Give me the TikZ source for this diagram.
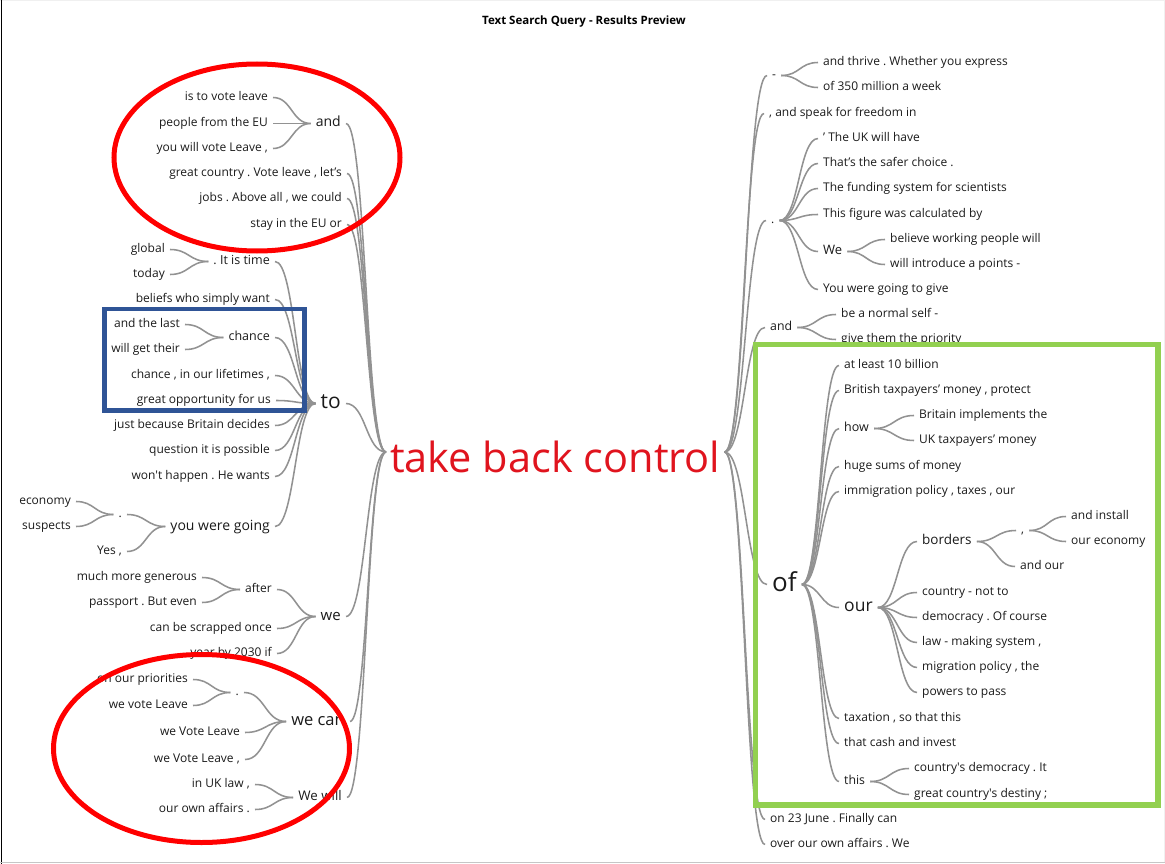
\documentclass[tikz,border=0pt]{standalone}
\usepackage{fontspec}
\setmainfont{Open Sans}
\frenchspacing
\usetikzlibrary{calc}
\definecolor{txt}{HTML}{1A1A1A}
\definecolor{conn}{HTML}{929292}
\definecolor{rootred}{HTML}{E0141E}
\definecolor{annred}{HTML}{FF0000}
\definecolor{annblue}{HTML}{2F5496}
\definecolor{anngreen}{HTML}{92D050}
\tikzset{
  base/.style={inner ysep=0pt, inner xsep=5pt, text=txt, font=\fontsize{12pt}{14pt}\selectfont, text height=9pt, text depth=3pt},
  sz/.style={font=\fontsize{#1pt}{#1pt}\selectfont, text height={#1*0.75pt}, text depth={#1*0.25pt}},
  L/.style={base, anchor=east},
  R/.style={base, anchor=west},
  rootnode/.style={anchor=west, inner xsep=4pt, inner ysep=0pt, text=rootred, font=\fontsize{41.5pt}{41.5pt}\selectfont, text height=40pt, text depth=0pt},
  cn/.style={draw=conn, line width=1.55pt, to path={let \p1=(\tikztostart), \p2=(\tikztotarget) in .. controls ({(\x1+\x2)/2},\y1) and ({(\x1+\x2)/2},\y2) .. (\tikztotarget)}},
  annot/.style={line width=#1}
}
\begin{document}
\begin{tikzpicture}[x=1pt,y=-1pt]
\useasboundingbox (0,0) rectangle (1165,864);
% frame
\draw[gray!12, line width=1pt] (0,1) -- (1164,1) -- (1164,862);
\draw[black, line width=1.5pt] (1.5,0) -- (1.5,864);
\draw[gray!45, line width=1.5pt] (0,862.5) -- (1165,862.5);
% title
\node[font=\bfseries\fontsize{11.5pt}{13pt}\selectfont, text=black, inner sep=0pt] (title) at (584,21.5) {Text Search Query - Results Preview};
% root
\node[rootnode] (root) at (386,452) {take back control};
\begin{scope}[yshift=-2.5pt]
% left side
\node[L] (lA1) at (273,95) {is to vote leave};
\node[L] (lA2) at (273,121) {people from the EU};
\node[L] (lA3) at (273,146) {you will vote Leave ,};
\node[L,sz=14] (lAnd) at (346,121) {and};
\node[L] (lB1) at (347,171) {great country . Vote leave , let’s};
\node[L] (lB2) at (347,196) {jobs . Above all , we could};
\node[L] (lB3) at (347,222) {stay in the EU or};
\node[L] (lGlobal) at (170,247) {global};
\node[L] (lToday) at (170,272) {today};
\node[L,sz=12.5] (lTime) at (275,259) {. It is time};
\node[L] (lBeliefs) at (275,297) {beliefs who simply want};
\node[L] (lLast) at (185,322) {and the last};
\node[L] (lTheir) at (185,347) {will get their};
\node[L,sz=12.5] (lChance) at (275,335) {chance};
\node[L] (lLifetimes) at (275,373) {chance , in our lifetimes ,};
\node[L] (lOpp) at (276,398) {great opportunity for us};
\node[L] (lJust) at (275,423) {just because Britain decides};
\node[L] (lQuestion) at (275,448) {question it is possible};
\node[L] (lWont) at (275,474) {won\textquotesingle t happen . He wants};
\node[L,sz=14] (lGoing) at (275,524) {you were going};
\node[L] (lDot1) at (127,512) {.};
\node[L] (lEconomy) at (76,499) {economy};
\node[L] (lSuspects) at (76,524) {suspects};
\node[L] (lYes) at (127,549) {Yes ,};
\node[L,sz=21] (lTo) at (346,401) {to};
\node[L] (lGenerous) at (202,575) {much more generous};
\node[L] (lPassport) at (202,600) {passport . But even};
\node[L,sz=12] (lAfter) at (277,587) {after};
\node[L] (lScrapped) at (277,626) {can be scrapped once};
\node[L] (lYear) at (277,651) {year by 2030 if};
\node[L,sz=15] (lWe) at (346,614) {we};
\node[L] (lPriorities) at (193,677) {on our priorities};
\node[L] (lVote1) at (193,703) {we vote Leave};
\node[L] (lDot2) at (244,690) {.};
\node[L] (lVote2) at (245,730) {we Vote Leave};
\node[L] (lVote3) at (245,757) {we Vote Leave ,};
\node[L,sz=16.5] (lWeCan) at (350,719) {we can};
\node[L] (lUKlaw) at (255,782) {in UK law ,};
\node[L] (lAffairs) at (255,807) {our own affairs .};
\node[L,sz=13.3] (lWeWill) at (347,795) {We will};
% right side
\node[R] (rDash) at (767,73) {-};
\node[R] (rThrive) at (818,60) {and thrive . Whether you express};
\node[R] (r350) at (818,85) {of 350 million a week};
\node[R] (rSpeak) at (764,111) {, and speak for freedom in};
\node[R] (rDot) at (766,218) {.};
\node[R] (rUK) at (818,136) {’ The UK will have};
\node[R] (rSafer) at (818,161) {That’s the safer choice .};
\node[R] (rFunding) at (818,186) {The funding system for scientists};
\node[R] (rFigure) at (818,212) {This figure was calculated by};
\node[R,sz=13] (rWe) at (818,249) {We};
\node[R] (rBelieve) at (885,237) {believe working people will};
\node[R] (rIntroduce) at (885,262) {will introduce a points -};
\node[R] (rGive) at (818,287) {You were going to give};
\node[R,sz=12.3] (rAnd) at (765,325) {and};
\node[R] (rNormal) at (836,312) {be a normal self -};
\node[R] (rPriority) at (836,337) {give them the priority};
\node[R,sz=26] (rOf) at (767,582) {of};
\node[R] (rLeast) at (839,363) {at least 10 billion};
\node[R] (rBritish) at (839,388) {British taxpayers’ money , protect};
\node[R,sz=12.5] (rHow) at (839,426) {how};
\node[R] (rImpl) at (914,413) {Britain implements the};
\node[R] (rUKmoney) at (914,438) {UK taxpayers’ money};
\node[R] (rHuge) at (839,464) {huge sums of money};
\node[R] (rImmig) at (839,489) {immigration policy , taxes , our};
\node[R,sz=17.5] (rOur) at (839,605) {our};
\node[R,sz=13.5] (rBorders) at (917,539) {borders};
\node[R] (rComma) at (1016,528) {,};
\node[R] (rInstall) at (1066,514) {and install};
\node[R] (rEconomy) at (1066,539) {our economy};
\node[R] (rAndOur) at (1015,564) {and our};
\node[R] (rCountry) at (917,590) {country - not to};
\node[R] (rDemocracy) at (917,615) {democracy . Of course};
\node[R] (rLaw) at (917,640) {law - making system ,};
\node[R] (rMigration) at (917,665) {migration policy , the};
\node[R] (rPowers) at (917,690) {powers to pass};
\node[R] (rTaxation) at (839,716) {taxation , so that this};
\node[R] (rCash) at (839,741) {that cash and invest};
\node[R,sz=12.3] (rThis) at (839,779) {this};
\node[R] (rCDem) at (909,766) {country\textquotesingle s democracy . It};
\node[R] (rDestiny) at (909,792) {great country\textquotesingle s destiny ;};
\node[R] (rJune) at (765,817) {on 23 June . Finally can};
\node[R] (rOver) at (765,842) {over our own affairs . We};
\end{scope}
% connectors: left side (child -> parent)
\foreach \c in {lAnd,lB1,lB2,lB3,lTo,lWe,lWeCan,lWeWill} \draw[cn] (\c.east) to (root.west);
\foreach \c in {lA1,lA2,lA3} \draw[cn] (\c.east) to (lAnd.west);
\foreach \c in {lTime,lBeliefs,lChance,lLifetimes,lOpp,lJust,lQuestion,lWont,lGoing} \draw[cn] (\c.east) to (lTo.west);
\foreach \c in {lGlobal,lToday} \draw[cn] (\c.east) to (lTime.west);
\foreach \c in {lLast,lTheir} \draw[cn] (\c.east) to (lChance.west);
\foreach \c in {lDot1,lYes} \draw[cn] (\c.east) to (lGoing.west);
\foreach \c in {lEconomy,lSuspects} \draw[cn] (\c.east) to (lDot1.west);
\foreach \c in {lAfter,lScrapped,lYear} \draw[cn] (\c.east) to (lWe.west);
\foreach \c in {lGenerous,lPassport} \draw[cn] (\c.east) to (lAfter.west);
\foreach \c in {lDot2,lVote2,lVote3} \draw[cn] (\c.east) to (lWeCan.west);
\foreach \c in {lPriorities,lVote1} \draw[cn] (\c.east) to (lDot2.west);
\foreach \c in {lUKlaw,lAffairs} \draw[cn] (\c.east) to (lWeWill.west);
% connectors: right side (parent -> child)
\foreach \c in {rDash,rSpeak,rDot,rAnd,rOf,rJune,rOver} \draw[cn] (root.east) to (\c.west);
\foreach \c in {rThrive,r350} \draw[cn] (rDash.east) to (\c.west);
\foreach \c in {rUK,rSafer,rFunding,rFigure,rWe,rGive} \draw[cn] (rDot.east) to (\c.west);
\foreach \c in {rBelieve,rIntroduce} \draw[cn] (rWe.east) to (\c.west);
\foreach \c in {rNormal,rPriority} \draw[cn] (rAnd.east) to (\c.west);
\foreach \c in {rLeast,rBritish,rHow,rHuge,rImmig,rOur,rTaxation,rCash,rThis} \draw[cn] (rOf.east) to (\c.west);
\foreach \c in {rImpl,rUKmoney} \draw[cn] (rHow.east) to (\c.west);
\foreach \c in {rBorders,rCountry,rDemocracy,rLaw,rMigration,rPowers} \draw[cn] (rOur.east) to (\c.west);
\foreach \c in {rComma,rAndOur} \draw[cn] (rBorders.east) to (\c.west);
\foreach \c in {rInstall,rEconomy} \draw[cn] (rComma.east) to (\c.west);
\foreach \c in {rCDem,rDestiny} \draw[cn] (rThis.east) to (\c.west);
% annotations
\draw[annred, annot=5pt] (257,157.5) ellipse [x radius=143pt, y radius=93.5pt];
\draw[annred, annot=5pt] (201.5,748.5) ellipse [x radius=148pt, y radius=94pt];
\draw[annblue, annot=4.2pt] (104.5,309) rectangle (304.5,410.5);
\draw[anngreen, annot=5.5pt] (755.5,344.5) rectangle (1158,805);
\end{tikzpicture}
\end{document}
